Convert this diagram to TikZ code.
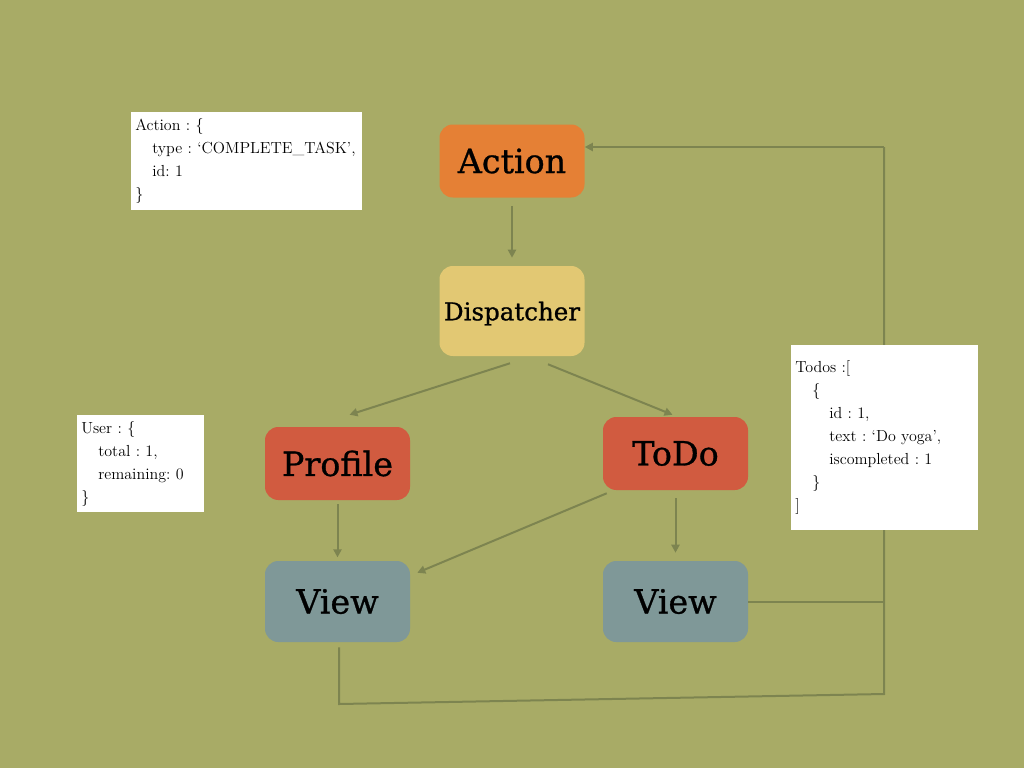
\documentclass[tikz,border=0pt]{standalone}
\usepackage{fontspec}
\newfontfamily\boxfont[FakeBold=0.9]{DejaVu Serif}
\usetikzlibrary{arrows.meta,calc}
\definecolor{bgolive}{RGB}{168,171,102}
\definecolor{linkolive}{RGB}{125,132,80}
\definecolor{actionorange}{RGB}{229,128,53}
\definecolor{dispyellow}{RGB}{226,200,115}
\definecolor{storered}{RGB}{209,91,64}
\definecolor{viewgrey}{RGB}{127,152,152}
\newcommand{\notefont}{\fontsize{12}{17.25}\selectfont\hyphenpenalty=10000\relax}
\tikzset{
  block/.style={rounded corners=10pt,inner sep=0pt,minimum width=108.75pt,minimum height=54.75pt,font=\boxfont\fontsize{25}{28}\selectfont},
  note/.style={fill=white,anchor=north west,inner sep=3pt,align=left,font=\notefont},
  link/.style={draw=linkolive,line width=1.5pt,-{Triangle[length=6pt,width=6pt]}},
  wire/.style={draw=linkolive,line width=1.5pt}
}
\newcommand{\ind}{\hspace*{12.75pt}}
\begin{document}
\begin{tikzpicture}[x=0.75pt,y=0.75pt,yscale=-1,xscale=1]
%Background
\fill[bgolive] (0,0) rectangle (1024,768);
\useasboundingbox (0,0) rectangle (1024,768);

% Blocks
\node[block,fill=actionorange] (Action) at (512,161) {Action};
\node[block,fill=dispyellow,minimum height=67.5pt,text depth=0pt,font=\boxfont\fontsize{18.4}{20}\selectfont] (Dispatcher) at (512,311) {Dispatcher};
\node[block,fill=storered] (Profile) at (337.5,463.5) {Profile};
\node[block,fill=storered] (ToDo) at (675.5,453.5) {ToDo};
\node[block,fill=viewgrey,minimum height=60.75pt] (ViewL) at (337.5,601.5) {View};
\node[block,fill=viewgrey,minimum height=60.75pt] (ViewR) at (675.5,601.5) {View};

% Arrows
\draw[link,shorten <=6pt,shorten >=6pt] (Action.south) -- (Dispatcher.north);
\draw[link] ($(Dispatcher.south)+(-2,7)$) -- ($(Profile.north)+(12,-12)$);
\draw[link] ($(Dispatcher.south)+(36,8)$) -- ($(ToDo.north)+(-3,-2)$);
\draw[link,shorten <=3pt,shorten >=2.5pt] (Profile.south) -- (ViewL.north);
\draw[link] ($(ToDo.south west)+(4,3)$) -- ($(ViewL.north east)+(7,12)$);
\draw[link,shorten <=6pt,shorten >=6pt] (ToDo.south) -- (ViewR.north);

% Loop back
\coordinate (loopBL) at (339,704);
\coordinate (loopBR) at (884,694);
\coordinate (loopTR) at (884,147);
\draw[wire] ($(ViewL.south)+(1.5,5)$) -- (loopBL) -- (loopBR) -- (loopTR);
\draw[link] (loopTR) -- (loopTR -| Action.east);
\draw[wire] (ViewR.east) -- (ViewR.east -| loopTR);

% Text Nodes
\node[note,text width=167pt,minimum height=73.5pt] (ActionData) at (131,112) {Action~:~\{\\ \ind type~:~`COMPLETE\_TASK',\\ \ind id:~1\\ \}};
\node[note,text width=89.25pt,minimum height=72.75pt] (UserData) at (77,415) {User~:~\{\\ \ind total~:~1,\\ \ind remaining:~0\\ \}};
\node[note,text width=134.25pt,minimum height=138.75pt] (TodoData) at (791,345) {Todos~:[\\ \ind \{\\ \ind\ind id~:~1,\\ \ind\ind text~:~`Do yoga',\\ \ind\ind iscompleted~:~1\\ \ind \}\\ ]};
\end{tikzpicture}
\end{document}
